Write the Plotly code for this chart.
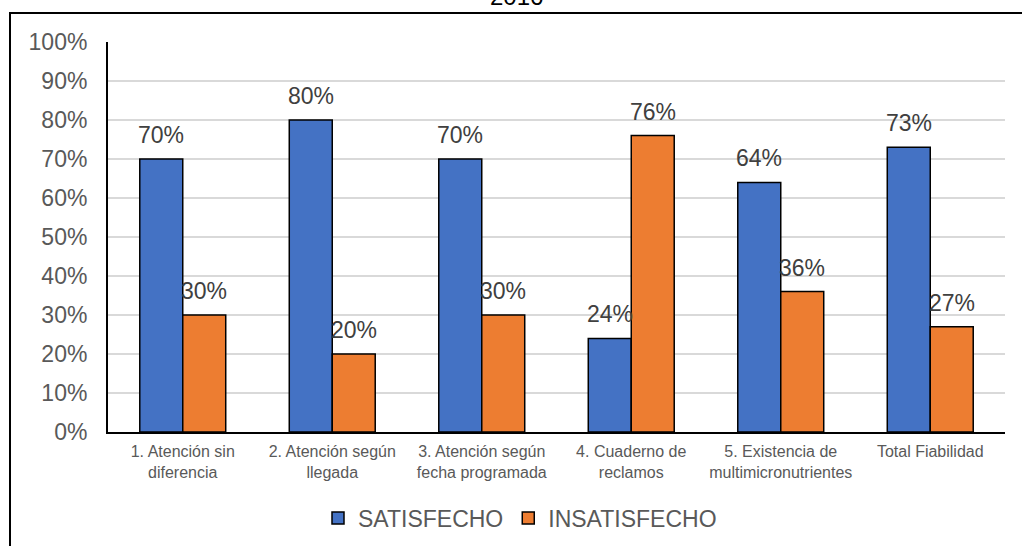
import plotly.graph_objects as go

categories = ["1. Atención sin<br>diferencia", "2. Atención según<br>llegada",
              "3. Atención según<br>fecha programada", "4. Cuaderno de<br>reclamos",
              "5. Existencia de<br>multimicronutrientes", "Total Fiabilidad"]
satisfecho = [70, 80, 70, 24, 64, 73]
insatisfecho = [30, 20, 30, 76, 36, 27]
series_names = ["SATISFECHO", "INSATISFECHO"]
colors = ["#4472C4", "#ED7D31"]
ytick_vals = list(range(0, 101, 10))
ytick_text = [f"{v}%" for v in ytick_vals]

W, H = 1022, 546
L, R, T, B = 108, 17, 42, 114
plot_w = W - L - R
plot_h = H - T - B
bargap = 0.425
bar_px = plot_w / len(categories) * (1 - bargap) / 2

fig = go.Figure()
for name, vals, col in zip(series_names, [satisfecho, insatisfecho], colors):
    fig.add_trace(go.Bar(
        x=categories, y=vals, name=name,
        marker=dict(color=col, line=dict(color="black", width=1.5)),
    ))

annotations = []
for i, vals in enumerate([satisfecho, insatisfecho]):
    shift = -bar_px / 2 if i == 0 else bar_px / 2
    for c, v in zip(categories, vals):
        annotations.append(dict(
            x=c, y=v, xref="x", yref="y", text=f"{v}%", showarrow=False,
            xanchor="center", yanchor="bottom", xshift=shift, yshift=9,
            font=dict(family="Liberation Sans, Arial", size=23, color="#404040"),
        ))

# partially visible title
annotations.append(dict(
    x=(516 - L) / plot_w, y=(H - B - 12) / plot_h, xref="paper", yref="paper",
    text="2016", showarrow=False, xanchor="center", yanchor="bottom",
    font=dict(family="Liberation Sans, Arial", size=24, color="black"),
))

fig.update_layout(
    width=W, height=H,
    margin=dict(l=L, r=R, t=T, b=B, pad=0, autoexpand=False),
    paper_bgcolor="white", plot_bgcolor="white",
    barmode="group", bargap=bargap, bargroupgap=0,
    font=dict(family="Liberation Sans, Arial", color="#595959"),
    showlegend=True,
    legend=dict(orientation="h", x=(520 - L) / plot_w, xanchor="center",
                y=(H - B - 518) / plot_h, yanchor="middle",
                font=dict(size=23, color="#595959"), itemwidth=30,
                traceorder="normal"),
    annotations=annotations,
    shapes=[dict(type="rect", xref="paper", yref="paper",
                 x0=(10 - L) / plot_w, x1=(W + 20 - L) / plot_w,
                 y0=(H - B - (H + 20)) / plot_h, y1=(H - B - 13) / plot_h,
                 line=dict(color="black", width=2), fillcolor="rgba(0,0,0,0)",
                 layer="below")],
)
fig.update_xaxes(showline=True, linecolor="black", linewidth=2, showgrid=False,
                 ticks="", tickfont=dict(size=16, color="#595959"),
                 ticklabelstandoff=4, automargin=False)
fig.update_yaxes(range=[0, 100], tickmode="array", tickvals=ytick_vals,
                 ticktext=ytick_text,
                 showgrid=True, gridcolor="#d9d9d9", gridwidth=1.5,
                 showline=True, linecolor="black", linewidth=2,
                 ticks="", tickfont=dict(size=23, color="#595959"),
                 ticklabelstandoff=14, zeroline=False, automargin=False)

fig.write_html("out.html")
